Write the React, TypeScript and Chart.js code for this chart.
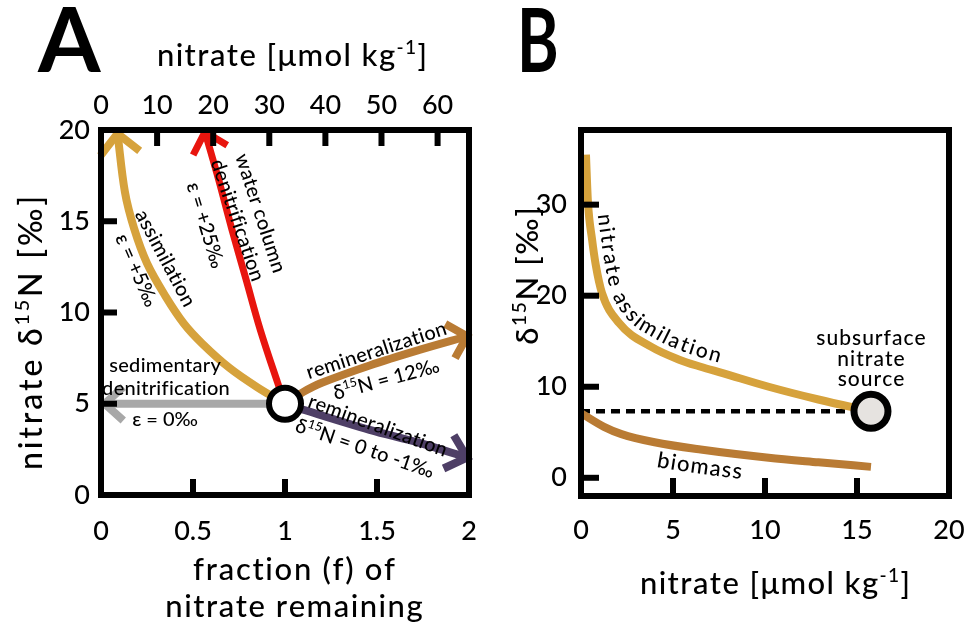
import React, { useEffect, useRef } from "react";
import { Chart, registerables } from "chart.js";

Chart.register(...registerables);

const FAM = "Lato, 'Noto Sans', 'DejaVu Sans', sans-serif";
const W = 970;
const H = 632;
const A_W = 493;
const B_LEFT = 485;
const B_W = 488;

// ---------------- Panel A data (fraction f of nitrate remaining vs nitrate δ15N) ----------------
const sourceAF = [1];
const sourceAD = [5];
const assimAF = [1, 0.85, 0.7, 0.55, 0.45, 0.35, 0.25, 0.18, 0.13, 0.09];
const assimAD = [5, 5.9, 6.95, 8.3, 9.4, 10.9, 12.7, 14.6, 16.6, 19.8];
const wcDenitF = [1, 0.96, 0.865, 0.79, 0.71, 0.64, 0.565];
const wcDenitD = [5, 6.15, 9.07, 11.75, 14.6, 17.25, 19.9];
const sedDenitF = [1, 0.02];
const sedDenitD = [5, 5];
const remin12F = [1, 1.1, 1.2, 1.46, 1.73, 1.99];
const remin12D = [5, 5.65, 6.15, 7.1, 7.95, 8.7];
const remin0F = [1, 1.1, 1.46, 1.73, 1.99];
const remin0D = [5, 4.67, 3.57, 2.86, 2.05];

const fMin = 0, fMax = 2, fStep = 0.5;
const nitTopMin = 0, nitTopMax = 65.6, nitTopStep = 10;
const dAMin = 0, dAMax = 20, dAStep = 5;

// ---------------- Panel B data (nitrate vs δ15N) ----------------
const sourceBN = [15.76];
const sourceBD = [7.3];
const assimBN = [0.27, 0.38, 0.6, 0.8, 1.14, 2.07, 3.8, 5.3, 6.5, 7.7, 10.2, 12.9, 15.76];
const assimBD = [35.5, 30.2, 26.2, 23.4, 20.3, 17.0, 14.4, 13.0, 12.2, 11.5, 10.0, 8.6, 7.3];
const biomassBN = [0, 1.25, 2.2, 4, 6.5, 10.2, 12.9, 15.76];
const biomassBD = [7.1, 5.6, 4.8, 3.9, 3.1, 2.2, 1.7, 1.2];
const refLineBN = [0, 15.76];
const refLineBD = [7.3, 7.3];

const nBMin = 0, nBMax = 20, nBStep = 5;
const dBMin = -2, dBMax = 38.2, dBStep = 10;

const pts = (xs: number[], ys: number[]) => xs.map((x, i) => ({ x, y: ys[i] }));

// ---------------- text helpers ----------------
type Seg = { t: string; sup?: boolean };
const S = (t: string): Seg[] => [{ t }];
const WEIGHT = "500";
const fnt = (size: number, weight = WEIGHT) => `${weight} ${size}px ${FAM}`;

type TextOpt = { rot?: number; align?: "left" | "center"; weight?: string; baseline?: boolean; scaleX?: number; sp?: number };

function drawRich(ctx: CanvasRenderingContext2D, segs: Seg[], x: number, y: number, size: number, o: TextOpt = {}) {
  ctx.save();
  ctx.translate(x, y);
  if (o.rot) ctx.rotate((o.rot * Math.PI) / 180);
  if (o.scaleX) ctx.scale(o.scaleX, 1);
  const w = o.weight || WEIGHT;
  const sp = o.sp || 0;
  const supSize = size * 0.62;
  const chars: { c: string; sup?: boolean; w: number }[] = [];
  segs.forEach((s) => {
    ctx.font = fnt(s.sup ? supSize : size, w);
    for (const c of s.t) chars.push({ c, sup: s.sup, w: ctx.measureText(c).width + sp });
  });
  const total = chars.reduce((a, c) => a + c.w, 0) - sp;
  let cx = o.align === "left" ? 0 : -total / 2;
  ctx.fillStyle = "#000";
  ctx.textAlign = "left";
  ctx.textBaseline = "alphabetic";
  const base = o.baseline ? 0 : size * 0.36;
  chars.forEach((c) => {
    ctx.font = fnt(c.sup ? supSize : size, w);
    ctx.fillText(c.c, cx, c.sup ? base - size * 0.4 : base);
    cx += c.w;
  });
  ctx.restore();
}

type Lbl = { segs: Seg[]; x: number; y: number; rot?: number; size: number; sp?: number };
type PixTxt = { segs: Seg[]; x: number; y: number; size: number } & TextOpt;
type PathTxt = { ds: number; text: string; sx: number; sy: number; off: number; size: number; spacing?: number };
type TickAx = { id: string; side: "left" | "bottom" | "top" };

function sampleDataset(chart: any, i: number) {
  const els = chart.getDatasetMeta(i).data as any[];
  const out: { x: number; y: number }[] = [];
  for (let k = 0; k < els.length - 1; k++) {
    const a = els[k], b = els[k + 1];
    const c1x = a.cp2x ?? a.x, c1y = a.cp2y ?? a.y, c2x = b.cp1x ?? b.x, c2y = b.cp1y ?? b.y;
    for (let j = 0; j < 30; j++) {
      const t = j / 30, u = 1 - t;
      out.push({
        x: u * u * u * a.x + 3 * u * u * t * c1x + 3 * u * t * t * c2x + t * t * t * b.x,
        y: u * u * u * a.y + 3 * u * u * t * c1y + 3 * u * t * t * c2y + t * t * t * b.y,
      });
    }
  }
  const l = els[els.length - 1];
  out.push({ x: l.x, y: l.y });
  return out;
}

function drawPathText(chart: any, p: PathTxt, xId: string, yId: string) {
  const ctx: CanvasRenderingContext2D = chart.ctx;
  const raw = sampleDataset(chart, p.ds);
  const off = raw.map((q, i) => {
    const a = raw[Math.max(0, i - 2)], b = raw[Math.min(raw.length - 1, i + 2)];
    let dx = b.x - a.x, dy = b.y - a.y;
    const L = Math.hypot(dx, dy) || 1;
    dx /= L; dy /= L;
    return { x: q.x + dy * p.off, y: q.y - dx * p.off };
  });
  const cum = [0];
  for (let i = 1; i < off.length; i++) cum.push(cum[i - 1] + Math.hypot(off[i].x - off[i - 1].x, off[i].y - off[i - 1].y));
  const tx = chart.scales[xId].getPixelForValue(p.sx), ty = chart.scales[yId].getPixelForValue(p.sy);
  let best = 0, bd = Infinity;
  raw.forEach((q, i) => {
    const d = Math.hypot(q.x - tx, q.y - ty);
    if (d < bd) { bd = d; best = i; }
  });
  const at = (s: number) => {
    let i = 1;
    while (i < cum.length - 1 && cum[i] < s) i++;
    const a = off[i - 1], b = off[i];
    const seg = cum[i] - cum[i - 1] || 1;
    const t = Math.min(1, Math.max(0, (s - cum[i - 1]) / seg));
    const a2 = off[Math.max(0, i - 3)], b2 = off[Math.min(off.length - 1, i + 2)];
    return { x: a.x + (b.x - a.x) * t, y: a.y + (b.y - a.y) * t, ang: Math.atan2(b2.y - a2.y, b2.x - a2.x) };
  };
  ctx.save();
  ctx.font = fnt(p.size);
  ctx.fillStyle = "#000";
  ctx.textAlign = "center";
  ctx.textBaseline = "alphabetic";
  let s = cum[best];
  for (const ch of p.text) {
    const w = ctx.measureText(ch).width;
    const q = at(s + w / 2);
    ctx.save();
    ctx.translate(q.x, q.y);
    ctx.rotate(q.ang);
    ctx.fillText(ch, 0, 0);
    ctx.restore();
    s += w + (p.spacing || 0);
  }
  ctx.restore();
}

function decor(o: {
  xId: string; yId: string; ticks: TickAx[]; tickLen: number; tickW: number; frameW: number;
  labels: Lbl[]; texts: PixTxt[]; paths: PathTxt[];
}) {
  return {
    id: "decor",
    afterDatasetsDraw(chart: any) {
      const ctx: CanvasRenderingContext2D = chart.ctx;
      const a = chart.chartArea;
      chart.data.datasets.forEach((ds: any, i: number) => {
        if (!ds.arrowHead) return;
        const els = chart.getDatasetMeta(i).data as any[];
        const tip = els[els.length - 1], prev = els[els.length - 2];
        const ang = Math.atan2(prev.y - tip.y, prev.x - tip.x);
        const { len, spread } = ds.arrowHead;
        const sp = (spread * Math.PI) / 180;
        ctx.save();
        ctx.strokeStyle = ds.borderColor;
        ctx.lineWidth = ds.borderWidth;
        ctx.lineJoin = "miter";
        ctx.lineCap = "butt";
        ctx.beginPath();
        ctx.moveTo(tip.x + len * Math.cos(ang + sp), tip.y + len * Math.sin(ang + sp));
        ctx.lineTo(tip.x, tip.y);
        ctx.lineTo(tip.x + len * Math.cos(ang - sp), tip.y + len * Math.sin(ang - sp));
        ctx.stroke();
        ctx.restore();
      });
      ctx.save();
      ctx.strokeStyle = "#000";
      ctx.lineWidth = o.frameW;
      ctx.lineJoin = "miter";
      ctx.strokeRect(a.left, a.top, a.right - a.left, a.bottom - a.top);
      ctx.lineWidth = o.tickW;
      ctx.lineCap = "butt";
      o.ticks.forEach((t) => {
        const sc = chart.scales[t.id];
        sc.ticks.forEach((tk: any) => {
          const px = sc.getPixelForValue(tk.value);
          ctx.beginPath();
          if (t.side === "left") {
            if (px < a.top + 4 || px > a.bottom - 4) return;
            ctx.moveTo(a.left, px); ctx.lineTo(a.left + o.tickLen, px);
          } else if (t.side === "bottom") {
            if (px < a.left + 4 || px > a.right - 4) return;
            ctx.moveTo(px, a.bottom); ctx.lineTo(px, a.bottom - o.tickLen);
          } else {
            if (px < a.left + 4 || px > a.right - 4) return;
            ctx.moveTo(px, a.top); ctx.lineTo(px, a.top + o.tickLen);
          }
          ctx.stroke();
        });
      });
      ctx.restore();
    },
    afterDraw(chart: any) {
      const ctx: CanvasRenderingContext2D = chart.ctx;
      const xs = chart.scales[o.xId], ys = chart.scales[o.yId];
      o.labels.forEach((l) => drawRich(ctx, l.segs, xs.getPixelForValue(l.x), ys.getPixelForValue(l.y), l.size, { rot: l.rot, sp: l.sp }));
      o.texts.forEach((t) => drawRich(ctx, t.segs, t.x, t.y, t.size, t));
      o.paths.forEach((p) => drawPathText(chart, p, o.xId, o.yId));
    },
  };
}

const tickFont = { family: FAM, size: 27, weight: WEIGHT };
const fmt = (v: any) => String(Math.round(Number(v) * 100) / 100);
function axis(extra: any, horizontal: boolean, size: number) {
  const { ticks, ...rest } = extra;
  return {
    type: "linear",
    grid: { display: false, drawTicks: false },
    border: { display: false },
    ...rest,
    afterFit: (s: any) => {
      if (horizontal) { s.height = size; s.paddingLeft = 0; s.paddingRight = 0; }
      else { s.width = size; s.paddingTop = 0; s.paddingBottom = 0; }
    },
    ticks: { color: "#000", font: tickFont, includeBounds: false, autoSkip: false, maxRotation: 0, callback: fmt, ...ticks },
  };
}

const delta15N = (rest: string): Seg[] => [{ t: "δ" }, { t: "15", sup: true }, { t: rest }];
const nitrateUnits: Seg[] = [{ t: "nitrate [μmol kg" }, { t: "-1", sup: true }, { t: "]" }];

// ---------------- annotations ----------------
const labelsA: Lbl[] = [
  { segs: S("assimilation"), x: 0.353, y: 12.99, rot: 62, size: 20, sp: 0.3 },
  { segs: S("ε = +5‰"), x: 0.196, y: 12.33, rot: 66, size: 20 },
  { segs: S("water column"), x: 0.87, y: 15.45, rot: 72, size: 20, sp: 0.3 },
  { segs: S("denitrification"), x: 0.745, y: 15.07, rot: 71, size: 20, sp: 0.3 },
  { segs: S("ε = +25‰"), x: 0.571, y: 14.79, rot: 73, size: 20 },
  { segs: S("sedimentary"), x: 0.348, y: 7.12, size: 20, sp: 0.3 },
  { segs: S("denitrification"), x: 0.353, y: 5.86, size: 20, sp: 0.3 },
  { segs: S("ε = 0‰"), x: 0.348, y: 4.16, size: 20 },
  { segs: S("remineralization"), x: 1.495, y: 7.95, rot: -18, size: 20, sp: 0.3 },
  { segs: delta15N("N = 12‰"), x: 1.549, y: 6.36, rot: -15, size: 20 },
  { segs: S("remineralization"), x: 1.505, y: 3.84, rot: 20, size: 20, sp: 0.3 },
  { segs: delta15N("N = 0 to -1‰"), x: 1.435, y: 2.58, rot: 19, size: 20 },
];
const textsA: PixTxt[] = [
  { segs: S("A"), x: 38, y: 72, size: 90, weight: "bold", align: "left", baseline: true },
  { segs: nitrateUnits, x: 292, y: 55, size: 31, sp: 1.4 },
  { segs: [{ t: "nitrate δ" }, { t: "15", sup: true }, { t: "N [‰]" }], x: 30, y: 333, size: 32, rot: -90, sp: 2.8 },
  { segs: S("fraction (f) of"), x: 294, y: 569, size: 31, sp: 1.7 },
  { segs: S("nitrate remaining"), x: 294, y: 606, size: 31, sp: 1.5 },
];
const labelsB: Lbl[] = [
  { segs: S("subsurface"), x: 15.76, y: 15.4, size: 21, sp: 1 },
  { segs: S("nitrate"), x: 15.76, y: 13.1, size: 21, sp: 1 },
  { segs: S("source"), x: 15.76, y: 10.9, size: 21, sp: 1 },
];
const textsB: PixTxt[] = [
  { segs: S("B"), x: 32, y: 72, size: 88, weight: "bold", align: "left", baseline: true, scaleX: 0.72 },
  { segs: delta15N("N [‰]"), x: 42, y: 276, size: 31, rot: -90, sp: 1.6 },
  { segs: nitrateUnits, x: 290, y: 583, size: 31, sp: 1.4 },
];
const pathsB: PathTxt[] = [
  { ds: 1, text: "nitrate assimilation", sx: 0.45, sy: 28.8, off: 9, size: 21, spacing: 2 },
  { ds: 2, text: "biomass", sx: 4.3, sy: 3.8, off: -24, size: 22, spacing: 1.2 },
];

const GOLD = "#D6A23C";
const RED = "#E8150E";
const BROWN = "#B97B34";
const PURPLE = "#4E3F66";
const GREY = "#A8A8A8";

const line = (data: any[], color: string, width: number, order: number, extra: any = {}) => ({
  data, borderColor: color, backgroundColor: color, borderWidth: width, showLine: true, pointRadius: 0,
  pointHoverRadius: 0, tension: 0.35, fill: false, order, ...extra,
});

function configA(): any {
  return {
    type: "scatter",
    data: {
      datasets: [
        { data: pts(sourceAF, sourceAD), pointRadius: 16, pointHoverRadius: 16, pointBorderWidth: 6, pointBackgroundColor: "#fff", pointBorderColor: "#000", showLine: false, order: 0 },
        line(pts(sedDenitF, sedDenitD), GREY, 8, 5, { arrowHead: { len: 25, spread: 42 } }),
        line(pts(assimAF, assimAD), GOLD, 8, 2, { arrowHead: { len: 28, spread: 45 } }),
        line(pts(wcDenitF, wcDenitD), RED, 7, 1, { arrowHead: { len: 26, spread: 43 } }),
        line(pts(remin12F, remin12D), BROWN, 8, 3, { arrowHead: { len: 25, spread: 45 } }),
        line(pts(remin0F, remin0D), PURPLE, 8, 4, { arrowHead: { len: 26, spread: 42 } }),
      ],
    },
    options: {
      responsive: false, animation: false, devicePixelRatio: 1, events: [],
      layout: { padding: { left: 0, right: 24, top: 0, bottom: 0 } },
      plugins: { legend: { display: false }, tooltip: { enabled: false } },
      scales: {
        x: axis({ position: "bottom", min: fMin, max: fMax, ticks: { stepSize: fStep, padding: 20 } }, true, 137),
        x2: axis({ position: "top", min: nitTopMin, max: nitTopMax, ticks: { stepSize: nitTopStep, padding: 9 } }, true, 130),
        y: axis({ position: "left", min: dAMin, max: dAMax, ticks: { stepSize: dAStep, padding: 11 } }, false, 101),
      },
    },
    plugins: [decor({ xId: "x", yId: "y", ticks: [{ id: "x", side: "bottom" }, { id: "x2", side: "top" }, { id: "y", side: "left" }], tickLen: 16, tickW: 6, frameW: 6, labels: labelsA, texts: textsA, paths: [] })],
  };
}

function configB(): any {
  return {
    type: "scatter",
    data: {
      datasets: [
        { data: pts(sourceBN, sourceBD), pointRadius: 17, pointHoverRadius: 17, pointBorderWidth: 7, pointBackgroundColor: "#E6E3E0", pointBorderColor: "#000", showLine: false, order: 0 },
        line(pts(assimBN, assimBD), GOLD, 8, 1, { cubicInterpolationMode: "monotone" }),
        line(pts(biomassBN, biomassBD), BROWN, 8, 2, { cubicInterpolationMode: "monotone" }),
        line(pts(refLineBN, refLineBD), "#000", 4.5, 3, { borderDash: [9, 6], tension: 0 }),
      ],
    },
    options: {
      responsive: false, animation: false, devicePixelRatio: 1, events: [],
      layout: { padding: { left: 0, right: 24, top: 130, bottom: 0 } },
      plugins: { legend: { display: false }, tooltip: { enabled: false } },
      scales: {
        x: axis({ position: "bottom", min: nBMin, max: nBMax, ticks: { stepSize: nBStep, padding: 18 } }, true, 136),
        y: axis({ position: "left", min: dBMin, max: dBMax, ticks: { stepSize: dBStep, padding: 14 } }, false, 96),
      },
    },
    plugins: [decor({ xId: "x", yId: "y", ticks: [{ id: "x", side: "bottom" }, { id: "y", side: "left" }], tickLen: 18, tickW: 6, frameW: 6, labels: labelsB, texts: textsB, paths: pathsB })],
  };
}

export default function App() {
  const refA = useRef<HTMLCanvasElement>(null);
  const refB = useRef<HTMLCanvasElement>(null);
  useEffect(() => {
    const a = new Chart(refA.current as HTMLCanvasElement, configA());
    const b = new Chart(refB.current as HTMLCanvasElement, configB());
    return () => {
      a.destroy();
      b.destroy();
    };
  }, []);
  return (
    <div style={{ position: "absolute", left: 0, top: 0, width: W, height: H, background: "#fff", overflow: "hidden" }}>
      <canvas ref={refA} width={A_W} height={H} style={{ position: "absolute", left: 0, top: 0, width: A_W, height: H }} />
      <canvas ref={refB} width={B_W} height={H} style={{ position: "absolute", left: B_LEFT, top: 0, width: B_W, height: H }} />
    </div>
  );
}
